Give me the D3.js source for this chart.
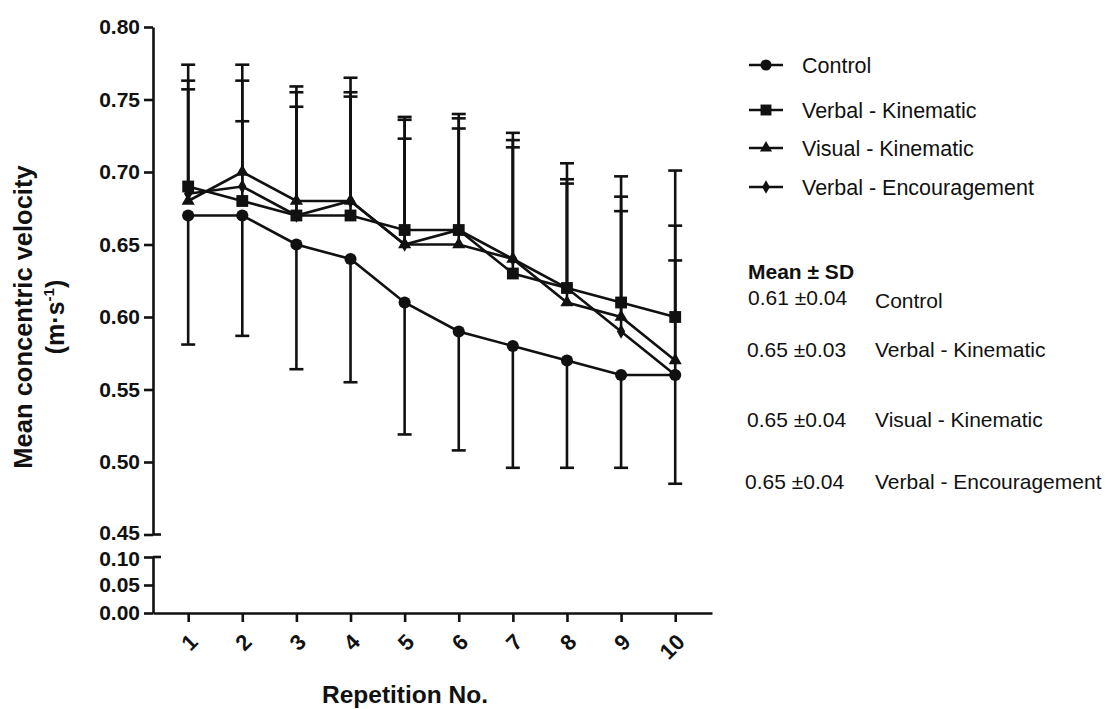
<!DOCTYPE html>
<html>
<head>
<meta charset="utf-8">
<script src="https://cdn.jsdelivr.net/npm/d3@7"></script>
<style>
  html, body { margin: 0; padding: 0; background: #fff; }
  svg { display: block; }
  text { font-family: "Liberation Sans", Arial, sans-serif; fill: #111; }
</style>
</head>
<body>
<svg id="chart" width="1110" height="709"></svg>
<script>
// ---------------- data ----------------
const reps = [1, 2, 3, 4, 5, 6, 7, 8, 9, 10];
const seriesNames = ["Control", "Verbal - Kinematic", "Visual - Kinematic", "Verbal - Encouragement"];
const controlMean   = [0.67, 0.67, 0.65, 0.64, 0.61, 0.59, 0.58, 0.57, 0.56, 0.56];
const verbalKinMean = [0.69, 0.68, 0.67, 0.67, 0.66, 0.66, 0.63, 0.62, 0.61, 0.60];
const visualKinMean = [0.68, 0.70, 0.68, 0.68, 0.65, 0.65, 0.64, 0.61, 0.60, 0.57];
const verbalEncMean = [0.685, 0.69, 0.67, 0.68, 0.65, 0.66, 0.64, 0.62, 0.59, 0.56];
// SD (control drawn below the mean, the others above)
const controlSD   = [0.089, 0.083, 0.086, 0.085, 0.091, 0.082, 0.084, 0.074, 0.064, 0.075];
const verbalKinSD = [0.084, 0.094, 0.089, 0.085, 0.078, 0.080, 0.097, 0.086, 0.087, 0.101];
const visualKinSD = [0.083, 0.063, 0.075, 0.085, 0.086, 0.087, 0.082, 0.085, 0.083, 0.093];
const verbalEncSD = [0.072, 0.045, 0.075, 0.072, 0.073, 0.070, 0.077, 0.072, 0.083, 0.079];
const yTicksUpper = [0.45, 0.50, 0.55, 0.60, 0.65, 0.70, 0.75, 0.80];
const yTicksLower = [0.00, 0.05, 0.10];
const statsMean = ["0.61 ±0.04", "0.65 ±0.03", "0.65 ±0.04", "0.65 ±0.04"];

// ---------------- layout ----------------
const svg = d3.select("#chart");
const x = d3.scaleLinear().domain([0.35, 10.68]).range([153, 712]);
const yTop = d3.scaleLinear().domain([0.45, 0.80]).range([534.5, 27]);
const yBot = d3.scaleLinear().domain([0.00, 0.10]).range([613, 557]);
const y = v => (v >= 0.45 ? yTop(v) : yBot(v));
const axisX0 = 153;
const SW = 2.6;

const series = [
  { name: seriesNames[0], mean: controlMean,   sd: controlSD,   dir: -1, sym: d3.symbolCircle,   size: 115 },
  { name: seriesNames[1], mean: verbalKinMean, sd: verbalKinSD, dir: 1,  sym: d3.symbolSquare,   size: 140 },
  { name: seriesNames[2], mean: visualKinMean, sd: visualKinSD, dir: 1,  sym: d3.symbolTriangle, size: 75 },
  { name: seriesNames[3], mean: verbalEncMean, sd: verbalEncSD, dir: 1,  sym: d3.symbolDiamond,  size: 60 }
];

// ---------------- axes ----------------
function styleAxis(g) {
  g.selectAll("path.domain").attr("stroke", "#111").attr("stroke-width", SW);
  g.selectAll(".tick line").attr("stroke", "#111").attr("stroke-width", SW);
  g.selectAll(".tick text").attr("font-size", 21).attr("font-weight", "bold")
    .attr("font-family", "'Liberation Sans', Arial, sans-serif").attr("fill", "#111");
}
const gyTop = svg.append("g").attr("transform", `translate(${axisX0},0)`)
  .call(d3.axisLeft(yTop).tickValues(yTicksUpper).tickFormat(d3.format(".2f")).tickSize(9).tickSizeOuter(0).tickPadding(4));
styleAxis(gyTop);
gyTop.selectAll(".tick text").filter(d => d === 0.45).attr("dy", "0.22em");
const gyBot = svg.append("g").attr("transform", `translate(${axisX0},0)`)
  .call(d3.axisLeft(yBot).tickValues(yTicksLower).tickFormat(d3.format(".2f")).tickSize(9).tickSizeOuter(0).tickPadding(4));
styleAxis(gyBot);
gyBot.selectAll(".tick text").filter(d => d === 0.10).attr("dy", "0.42em");
// break marks extend right of the axis
[[yTop, 0.45], [yBot, 0.10]].forEach(([s, v]) => {
  svg.append("line").attr("x1", axisX0).attr("x2", axisX0 + 8)
    .attr("y1", s(v)).attr("y2", s(v)).attr("stroke", "#111").attr("stroke-width", SW);
});

const gx = svg.append("g").attr("transform", `translate(0,${yBot(0)})`)
  .call(d3.axisBottom(x).tickValues(reps).tickFormat(d3.format("d")).tickSize(9).tickSizeOuter(0));
gx.selectAll("path.domain").attr("stroke", "#111").attr("stroke-width", SW);
gx.selectAll(".tick line").attr("stroke", "#111").attr("stroke-width", SW);
gx.selectAll(".tick text")
  .attr("font-size", 22).attr("font-weight", "bold")
  .attr("text-anchor", "end")
  .attr("y", 0).attr("dy", "0.35em")
  .attr("transform", "translate(5,25) rotate(-45)");

// axis titles
svg.append("text")
  .attr("transform", "translate(405,703)")
  .attr("text-anchor", "middle").attr("font-size", 24.5).attr("font-weight", "bold")
  .text("Repetition No.");

const yt = svg.append("text")
  .attr("transform", "translate(32,317) rotate(-90)")
  .attr("text-anchor", "middle").attr("font-size", 25.5).attr("font-weight", "bold");
yt.text("Mean concentric velocity");
const yt2 = svg.append("text")
  .attr("transform", "translate(64,317) rotate(-90)")
  .attr("text-anchor", "middle").attr("font-size", 25).attr("font-weight", "bold");
yt2.append("tspan").text("(m·s");
yt2.append("tspan").attr("font-size", 15).attr("dy", -10).text("-1");
yt2.append("tspan").attr("dy", 10).text(")");

// ---------------- error bars ----------------
const capW = 7;
series.forEach(s => {
  const g = svg.append("g");
  reps.forEach((r, i) => {
    const m = s.mean[i], end = m + s.dir * s.sd[i];
    g.append("line").attr("x1", x(r)).attr("x2", x(r))
      .attr("y1", y(m)).attr("y2", y(end)).attr("stroke", "#111").attr("stroke-width", SW);
    g.append("line").attr("x1", x(r) - capW).attr("x2", x(r) + capW)
      .attr("y1", y(end)).attr("y2", y(end)).attr("stroke", "#111").attr("stroke-width", SW);
  });
});

// ---------------- lines & markers ----------------
const line = d3.line().x((d, i) => x(reps[i])).y(d => y(d));
series.forEach(s => {
  svg.append("path").datum(s.mean).attr("d", line)
    .attr("fill", "none").attr("stroke", "#111").attr("stroke-width", SW);
});
series.forEach(s => {
  svg.append("g").selectAll("path").data(s.mean).join("path")
    .attr("d", d3.symbol().type(s.sym).size(s.size))
    .attr("transform", (d, i) => `translate(${x(reps[i])},${y(d)})`)
    .attr("fill", "#111");
});

// ---------------- legend ----------------
const legendY = [65, 110, 148, 187];
series.forEach((s, i) => {
  const g = svg.append("g").attr("transform", `translate(766,${legendY[i]})`);
  g.append("line").attr("x1", -17).attr("x2", 17).attr("stroke", "#111").attr("stroke-width", SW);
  g.append("path").attr("d", d3.symbol().type(s.sym).size(s.size * 0.85)).attr("fill", "#111");
  g.append("text").attr("x", 36).attr("dy", "0.35em").attr("font-size", 21.5).text(s.name);
});

// ---------------- stats block ----------------
svg.append("text").attr("x", 748).attr("y", 272).attr("dy", "0.35em")
  .attr("font-size", 21).attr("font-weight", "bold").text("Mean ± SD");
const statY = [298, 350, 420, 482];
const statX = [748, 747, 747, 745];
statsMean.forEach((t, i) => {
  svg.append("text").attr("x", statX[i]).attr("y", statY[i]).attr("dy", "0.35em")
    .attr("font-size", 21).text(t);
  svg.append("text").attr("x", 875).attr("y", statY[i] + (i === 0 ? 3 : 0)).attr("dy", "0.35em")
    .attr("font-size", 21).text(seriesNames[i]);
});
</script>
</body>
</html>
